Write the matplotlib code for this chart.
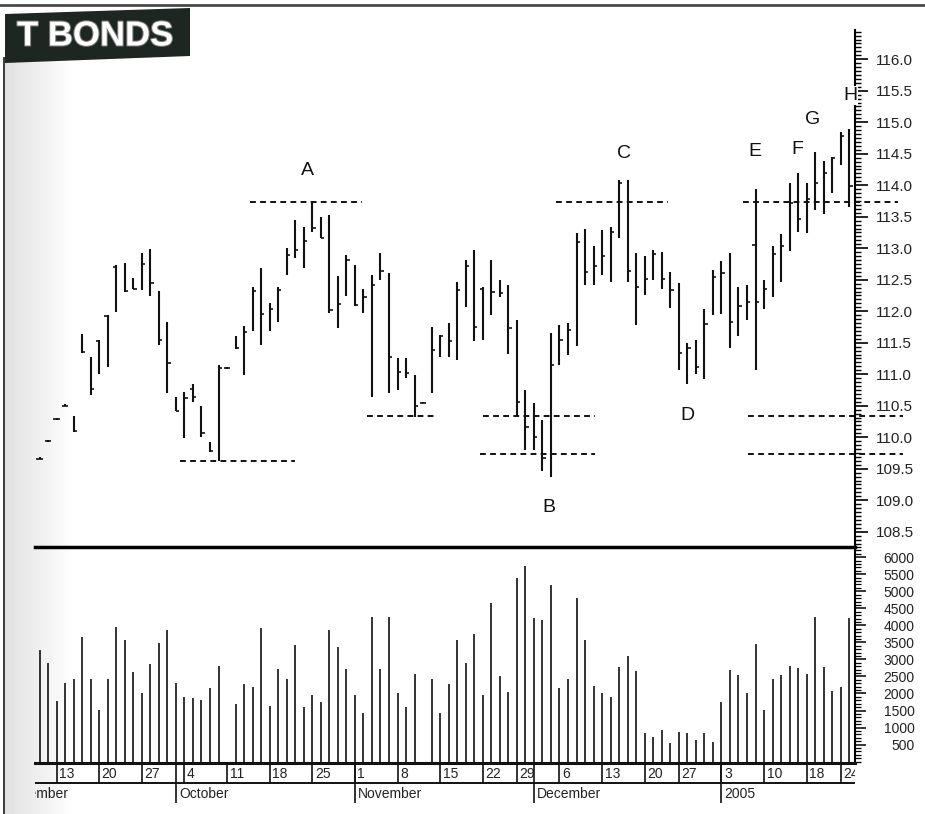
import numpy as np
import pandas as pd
import matplotlib
matplotlib.use("Agg")
import matplotlib.pyplot as plt
from matplotlib.ticker import MultipleLocator, FixedLocator, FormatStrFormatter
from matplotlib.patches import Polygon
import matplotlib.patheffects as pe

plt.rcParams['font.family'] = ['Liberation Sans', 'DejaVu Sans']

# trading calendar (CBOT bond futures), chart starts 9 Sep 2004
holidays = ['2004-09-06', '2004-11-25', '2004-12-24', '2005-01-17']
first_day = '2004-09-09'

high = [109.68, 109.96, 110.31, 110.52, 110.33, 111.64, 111.28, 111.55, 111.94, 112.73,
        112.77, 112.52, 112.93, 112.98, 112.32, 111.83, 110.64, 110.72, 110.84, 110.50,
        109.93, 111.15, 111.11, 111.60, 111.77, 112.38, 112.68, 112.13, 112.39, 113.00,
        113.44, 113.34, 113.73, 113.49, 113.53, 112.56, 112.89, 112.73, 112.36, 112.57,
        112.92, 112.60, 111.25, 111.25, 110.99, 110.56, 111.75, 111.62, 111.81, 112.47,
        112.81, 112.97, 112.39, 112.81, 112.50, 112.42, 111.86, 110.75, 110.55, 110.27,
        111.65, 111.78, 111.82, 113.24, 113.30, 113.04, 113.29, 113.34, 114.08, 114.08,
        112.92, 112.87, 112.97, 112.94, 112.63, 112.44, 111.49, 111.55, 112.03, 112.65,
        112.79, 112.92, 112.38, 112.42, 113.94, 112.50, 113.04, 113.23, 114.03, 114.20,
        114.04, 114.52, 114.39, 114.45, 114.85, 114.90]
low = [109.65, 109.93, 110.28, 110.49, 110.09, 111.33, 110.67, 111.00, 111.12, 111.99,
       112.31, 112.35, 112.34, 112.24, 111.46, 110.70, 110.41, 109.98, 110.56, 110.00,
       109.77, 109.62, 111.09, 111.40, 110.99, 111.69, 111.46, 111.69, 111.83, 112.57,
       112.84, 112.68, 113.26, 113.16, 111.97, 111.74, 112.24, 112.08, 111.97, 110.64,
       112.50, 110.70, 110.75, 110.94, 110.32, 110.54, 110.70, 111.28, 111.27, 111.23,
       112.07, 111.52, 111.55, 111.94, 112.23, 111.32, 110.33, 109.80, 109.79, 109.47,
       109.37, 111.15, 111.31, 111.44, 112.42, 112.42, 112.57, 112.47, 113.17, 112.47,
       111.78, 112.26, 112.50, 112.36, 112.05, 111.06, 110.85, 111.01, 110.93, 111.94,
       111.96, 111.41, 111.61, 111.86, 111.06, 112.03, 112.22, 112.47, 112.95, 113.26,
       113.24, 113.61, 113.54, 113.87, 114.32, 113.66]
nan = np.nan
opens = [109.66, 109.94, 110.29, 110.50, nan, nan, nan, 111.53, 111.92, 112.70,
         nan, nan, nan, nan, nan, nan, nan, nan, 110.76, nan,
         nan, nan, 111.10, nan, nan, nan, nan, nan, nan, nan,
         nan, nan, nan, nan, nan, nan, nan, nan, nan, nan,
         nan, nan, nan, nan, nan, 110.55, nan, nan, nan, nan,
         nan, nan, 112.36, nan, nan, nan, nan, nan, nan, nan,
         nan, nan, nan, nan, nan, nan, nan, nan, nan, nan,
         nan, nan, nan, nan, nan, nan, nan, nan, nan, nan,
         nan, nan, nan, nan, 113.05, nan, nan, nan, nan, nan,
         nan, nan, nan, nan, nan, nan]
close = [109.66, 109.94, 110.29, 110.50, 110.10, 111.35, 110.76, nan, nan, nan,
         112.32, 112.36, 112.75, 112.44, 111.55, 111.17, 110.42, 110.63, 110.64, 110.06,
         109.78, 111.10, 111.10, 111.41, 111.67, 112.32, 111.96, 112.03, 112.34, 112.89,
         112.97, 113.12, 113.32, 113.17, 112.02, 112.11, 112.81, 112.10, 112.23, 112.42,
         112.64, 111.28, 111.04, 111.02, 110.50, 110.55, 111.38, 111.60, 111.53, 112.34,
         112.71, 111.75, nan, 112.31, 112.29, 111.74, 110.56, 110.16, 110.01, 109.67,
         111.15, 111.54, 111.70, 113.10, 112.63, 112.72, 112.87, 113.25, 114.03, 112.64,
         112.38, 112.51, 112.91, 112.51, 112.33, 111.34, 111.41, 111.11, 111.80, 112.55,
         112.60, 111.83, 112.08, 112.14, 112.14, 112.36, 112.91, 113.04, 113.71, 113.47,
         113.78, 114.04, 114.19, 114.43, 114.78, 113.99]
volume = [3280, 2900, 1780, 2300, 2430, 3670, 2430, 1520, 2430, 3940,
          3570, 2640, 2000, 2870, 3470, 3860, 2300, 1890, 1880, 1810,
          2170, 2820, 0, 1680, 2270, 2180, 3910, 1630, 2730, 2430,
          3420, 1610, 1960, 1760, 3860, 3360, 2710, 1960, 1440, 4250,
          2720, 4240, 2000, 1610, 2560, 0, 2430, 1440, 2270, 3570,
          2900, 3750, 1960, 4650, 2520, 2050, 5380, 5740, 4210, 4160,
          5190, 2150, 2420, 4810, 3570, 2230, 2000, 1890, 2790, 3100,
          2660, 830, 730, 930, 540, 880, 830, 630, 830, 570,
          1740, 2690, 2540, 2000, 3450, 1520, 2430, 2540, 2820, 2760,
          2570, 4240, 2770, 2080, 2200, 4210]

# support / resistance levels: (price, first bar, last bar)
levels = [113.73, 109.62, 110.33, 110.33, 109.73, 113.73, 113.73, 110.33, 109.73]
level_from = [24.7, 16.5, 38.4, 52.0, 51.7, 60.6, 82.5, 83.1, 83.1]
level_to = [37.8, 30.0, 46.6, 65.2, 65.2, 73.7, 100.7, 101.3, 101.3]

marks = ['A', 'B', 'C', 'D', 'E', 'F', 'G', 'H']
mark_bar = [31.4, 59.7, 68.6, 76.0, 83.9, 88.9, 90.7, 95.1]
mark_price = [114.24, 108.89, 114.51, 110.34, 114.54, 114.56, 115.04, 115.42]

cal = pd.bdate_range('2004-09-01', '2005-01-25', freq='C', holidays=holidays)
pos = np.arange(len(cal)) - cal.get_loc(pd.Timestamp(first_day))
x = pos[pos >= 0]
high, low = np.array(high), np.array(low)
opens, close = np.array(opens), np.array(close)

W, H = 925, 814


def box(x0, y0, x1, y1):
    return [x0 / W, 1 - y1 / H, (x1 - x0) / W, (y1 - y0) / H]


fig = plt.figure(figsize=(W / 100, H / 100), dpi=100)
fig.patch.set_facecolor('white')

# page furniture: frame, shading at the binding, title tab
bg = fig.add_axes([0, 0, 1, 1], zorder=-10)
bg.set_xlim(0, W)
bg.set_ylim(H, 0)
bg.axis('off')
grad = np.linspace(0.88, 1.0, 70)[None, :]
bg.imshow(grad, extent=(5, 75, H, 58), cmap='gray', vmin=0, vmax=1, aspect='auto')
bg.plot([0, W], [5, 5], color='#4a4a4a', lw=2)
bg.plot([4, 4], [58, H], color='#3a3a3a', lw=1.4)
bg.add_patch(Polygon([(5, 14), (190, 8), (190, 56), (5, 63)], closed=True,
                     facecolor='#1d2621', edgecolor='none'))
bg.text(17, 36, 'T BONDS', color='white', fontsize=25, fontweight='bold',
        va='center', ha='left',
        path_effects=[pe.withStroke(linewidth=1.5, foreground='#7a7a7a')])

xlim = (-0.53, 95.67)

# price panel
ax = fig.add_axes(box(35, 30, 855, 547))
ax.set_facecolor('none')
ax.vlines(x, low, high, color='#111111', lw=1.5)
m = ~np.isnan(opens)
ax.hlines(opens[m], x[m] - 0.38, x[m], color='#111111', lw=1.2)
m = ~np.isnan(close)
ax.hlines(close[m], x[m], x[m] + 0.38, color='#111111', lw=1.2)
for lv, a, b in zip(levels, level_from, level_to):
    ax.hlines(lv, a, b, color='#111111', lw=1.4, linestyles=(0, (3, 2.2)), clip_on=False)
for t, bx, py in zip(marks, mark_bar, mark_price):
    kw = {}
    if t == 'H':
        kw['bbox'] = dict(facecolor='white', edgecolor='none', pad=0.5)
    ax.text(bx, py, t, fontsize=14, ha='center', va='center', color='#111111',
            zorder=6, clip_on=False, **kw)
ax.set_xlim(*xlim)
ax.set_ylim(108.257, 116.464)
for s in ['left', 'top']:
    ax.spines[s].set_visible(False)
ax.spines['right'].set_linewidth(1.5)
ax.spines['bottom'].set_linewidth(2.5)
ax.yaxis.tick_right()
ax.yaxis.set_major_locator(MultipleLocator(0.5))
ax.yaxis.set_minor_locator(MultipleLocator(1 / 16))
ax.yaxis.set_major_formatter(FormatStrFormatter('%.1f'))
ax.tick_params(axis='y', which='major', length=9, width=1.2, pad=6, labelsize=11,
               labelcolor='#222222')
ax.tick_params(axis='y', which='minor', length=4, width=1.0)
ax.tick_params(axis='x', bottom=False, labelbottom=False)

# volume panel
av = fig.add_axes(box(35, 547, 855, 763))
av.set_facecolor('none')
av.vlines(x, 0, volume, color='#111111', lw=1.2)
av.set_xlim(*xlim)
av.set_ylim(-40, 6300)
for s in ['left', 'top', 'bottom']:
    av.spines[s].set_visible(False)
av.spines['right'].set_linewidth(1.5)
av.yaxis.tick_right()
av.yaxis.set_major_locator(FixedLocator(np.arange(500, 6001, 500)))
av.yaxis.set_minor_locator(MultipleLocator(100))
av.yaxis.set_major_formatter(FormatStrFormatter('%d'))
av.tick_params(axis='y', which='major', length=8, width=1.1, pad=35, labelsize=10,
               labelcolor='#222222')
av.tick_params(axis='y', which='minor', length=4, width=0.9)
for lab in av.get_yticklabels():
    lab.set_horizontalalignment('right')
av.tick_params(axis='x', bottom=False, labelbottom=False)

# date strip: week starts and month starts
ad = fig.add_axes(box(35, 763, 855, 805))
ad.set_facecolor('none')
ad.set_xlim(*xlim)
ad.set_ylim(0, 1)
ad.axis('off')
week = cal.isocalendar().week.values
new_week = np.r_[False, week[1:] != week[:-1]]
new_month = np.r_[True, cal.month[1:] != cal.month[:-1]]
ad.axhline(1.0, color='#111111', lw=2.2, clip_on=False)
ad.axhline(0.52, color='#111111', lw=1.4)
for p, d in zip(pos[new_week], cal[new_week]):
    if p < 0:
        continue
    ad.vlines(p, 0.52, 1.0, color='#111111', lw=1.2)
    ad.text(p + 0.3, 0.75, str(d.day), fontsize=10, va='center', ha='left',
            color='#222222', clip_on=True)
for p, d in zip(pos[new_month], cal[new_month]):
    label = '2005' if d.month == 1 else d.strftime('%B')
    if p >= 0:
        ad.vlines(p, 0.05, 1.0, color='#111111', lw=1.2)
    ad.text(p + 0.35, 0.27, label, fontsize=10, va='center', ha='left',
            color='#222222', clip_on=True)

fig.savefig('out.png', dpi=100)
